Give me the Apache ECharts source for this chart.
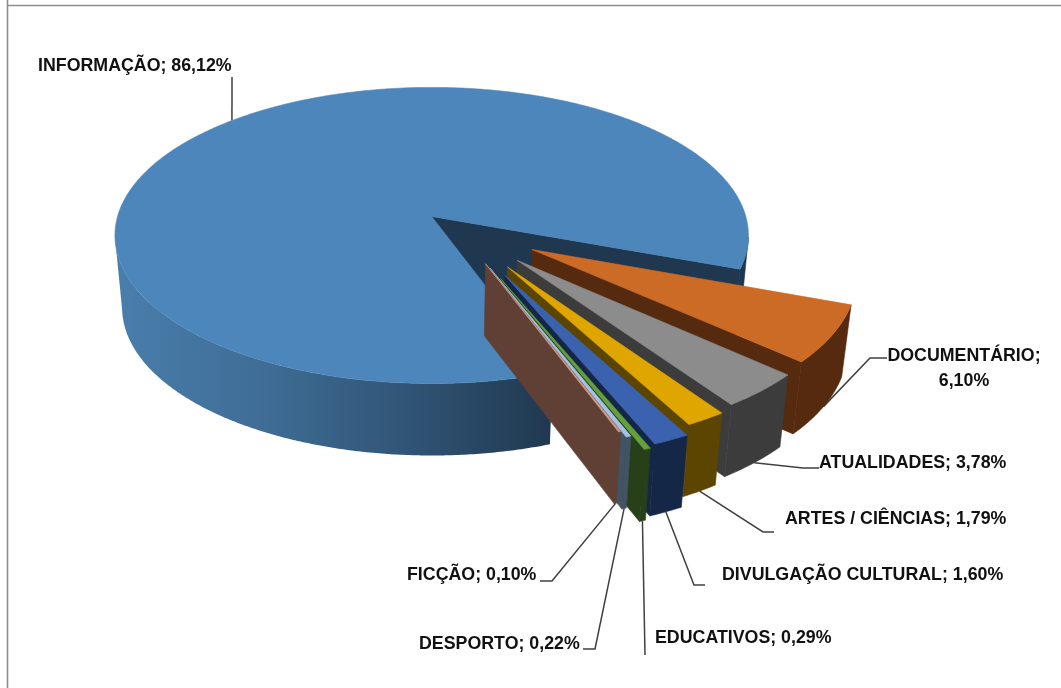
<!DOCTYPE html>
<html>
<head>
<meta charset="utf-8">
<style>html,body{margin:0;padding:0;background:#fff}#c{width:1061px;height:688px}</style>
<script src="https://cdn.jsdelivr.net/npm/echarts@6/dist/echarts.min.js"></script>
</head>
<body>
<div id="c"></div>
<script>
// ---- data, clockwise from the start of the large slice
const categories = ['INFORMAÇÃO','DOCUMENTÁRIO','ATUALIDADES','ARTES / CIÊNCIAS','DIVULGAÇÃO CULTURAL','EDUCATIVOS','DESPORTO','FICÇÃO'];
const values = [86.12, 6.10, 3.78, 1.79, 1.60, 0.29, 0.22, 0.10];
const explosion = [0.115, 0.268, 0.276, 0.292, 0.333, 0.346, 0.275, 0.245];

// ---- styles
const topColors  = ['#4D86BB','#CC6B26','#8C8C8C','#DFA600','#3A62AE','#66A03C','#A4C2E6','#D99A80'];
const sideColors = ['#20384F','#552A0F','#3C3C3C','#5C4500','#152746','#27401A','#425363','#604035'];

// ---- label layout: text anchor and leader elbow points, independent of the data
const labelLayout = [
  {x:38,  y:66,  align:'left',  elbow:[[232,77]], anchorShift:0.8},
  {x:964, y:369, align:'center',elbow:[[870,358],[887,358]], breakLine:true},
  {x:819, y:463, align:'left',  elbow:[[803,468],[819,468]]},
  {x:785, y:519, align:'left',  elbow:[[763,532],[774,532]]},
  {x:722, y:575, align:'left',  elbow:[[694,585],[705,585]]},
  {x:655, y:638, align:'left',  elbow:[[645,655]]},
  {x:419, y:644, align:'left',  elbow:[[595,649],[583,649]]},
  {x:407, y:575, align:'left',  elbow:[[552,581],[540,581]]}
];

// ---- projection of the tilted disc
const X0=432, Y0=216, A=314, B=145.5, K=0.128, DEPTH=72, SHRINK=0.0226;
const START=160.2, CU=0.08, CV=0.085, RADIUS_SMALL=0.99;
const VIS=[[98,262],[458,622]];
const rad=d=>d*Math.PI/180;
const total=values.reduce((a,b)=>a+b,0);
const spans=[]; { let a=START; values.forEach(v=>{const e=a+v/total*360; spans.push([a,e]); a=e;}); }

function project(u,v,down){
  const w=1-K*v; let x=X0+A*u/w, y=Y0+B*v/w;
  if(down){ x=X0+(x-X0)*(1-SHRINK); y+=DEPTH; }
  return [x,y];
}
function geom(i){
  const [s,e]=spans[i], m=(s+e)/2, ex=explosion[i], R=i===0?1:RADIUS_SMALL;
  const oU=CU+ex*Math.sin(rad(m)), oV=CV-ex*Math.cos(rad(m));
  const rim=(t,d)=>project(oU+R*Math.sin(rad(t)),oV-R*Math.cos(rad(t)),d);
  const apex=d=>project(oU,oV,d);
  const arc=(a,b,d)=>{const n=Math.max(2,Math.ceil(Math.abs(b-a)*2)),p=[];for(let j=0;j<=n;j++)p.push(rim(a+(b-a)*j/n,d));return p;};
  return {s,e,m,rim,apex,arc};
}
const poly=(points,fill)=>({type:'polygon',shape:{points},style:{fill,stroke:fill,lineWidth:0.6}});

function renderSlice(params,api){
  const i=params.dataIndex, g=geom(i); api.value(0);
  const kids=[];
  kids.push(poly([g.apex(false),g.rim(g.e,false),g.rim(g.e,true),g.apex(true)],sideColors[i]));
  VIS.forEach((r,ri)=>{
    const a=Math.max(g.s,r[0]), b=Math.min(g.e,r[1]);
    if(b<=a) return;
    const pts=g.arc(a,b,false).concat(g.arc(a,b,true).reverse());
    if(i===0 && ri===0){
      const fill=new echarts.graphic.LinearGradient(0,0,1,0,[
        {offset:0,color:'#4A7EAC'},{offset:0.35,color:'#3E6C95'},{offset:0.7,color:'#2F5272'},{offset:1,color:'#20384F'}]);
      kids.push({type:'polygon',shape:{points:pts},style:{fill}});
    } else {
      kids.push(poly(pts,sideColors[i]));
    }
  });
  kids.push(poly([g.apex(false)].concat(g.arc(g.s,g.e,false)),topColors[i]));
  return {type:'group',children:kids};
}

function labelText(i){
  const v=values[i].toFixed(2).replace('.',',')+'%';
  return labelLayout[i].breakLine ? categories[i]+';\n'+v : categories[i]+'; '+v;
}
function renderLabel(params,api){
  const i=params.dataIndex, g=geom(i), L=labelLayout[i]; api.value(0);
  const back=Math.cos(rad(g.m))>0;
  const anchor=g.rim(g.m+(L.anchorShift||0),!back);
  return {type:'group',children:[
    {type:'polyline',shape:{points:[anchor].concat(L.elbow)},style:{fill:null,stroke:'#404040',lineWidth:1.5}},
    {type:'text',style:{text:labelText(i),x:L.x,y:L.y,align:L.align,verticalAlign:'middle',
      font:'bold 17.8px "Liberation Sans"',fill:'#111',lineHeight:25}}
  ]};
}

const seriesData=categories.map((c,i)=>({name:c,value:[values[i]]}));
const chart=echarts.init(document.getElementById('c'),null,{renderer:'canvas'});
chart.setOption({
  animation:false,
  backgroundColor:'#fff',
  graphic:[
    {type:'line',shape:{x1:7.5,y1:0,x2:7.5,y2:688},style:{stroke:'#8E8E8E',lineWidth:1.6},silent:true},
    {type:'line',shape:{x1:7,y1:5.5,x2:1061,y2:5.5},style:{stroke:'#8E8E8E',lineWidth:1.6},silent:true}
  ],
  series:[
    {type:'custom',coordinateSystem:'none',z:1,silent:true,data:seriesData,renderItem:renderLabel},
    {type:'custom',coordinateSystem:'none',z:2,silent:true,data:seriesData,renderItem:renderSlice}
  ]
});
</script>
</body>
</html>
